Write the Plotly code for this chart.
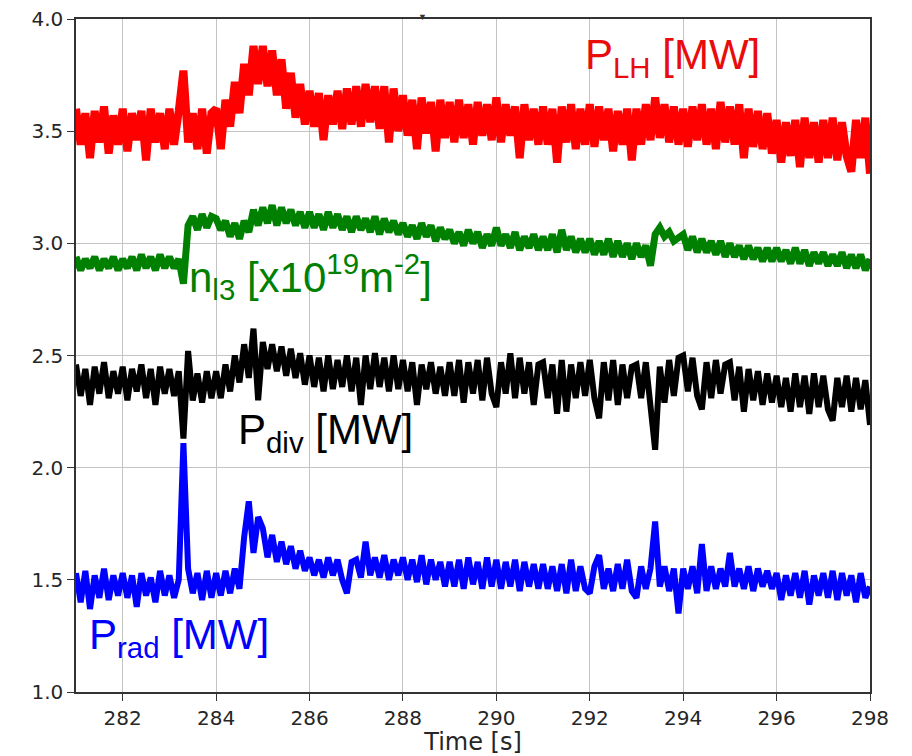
import numpy as np
import plotly.graph_objects as go

# time samples (s), 0.1 s spacing
time_s = [round(281.0 + 0.1 * i, 1) for i in range(171)]

p_lh = [
    3.60, 3.44, 3.58, 3.38, 3.59, 3.45, 3.61, 3.40, 3.57, 3.44,
    3.60, 3.41, 3.58, 3.46, 3.59, 3.37, 3.60, 3.45, 3.58, 3.42,
    3.60, 3.44, 3.59, 3.77, 3.45, 3.58, 3.42, 3.60, 3.40, 3.58,
    3.60, 3.42, 3.64, 3.52, 3.72, 3.58, 3.80, 3.66, 3.88, 3.71,
    3.88, 3.70, 3.86, 3.66, 3.82, 3.60, 3.76, 3.56, 3.71, 3.53,
    3.68, 3.52, 3.67, 3.46, 3.66, 3.53, 3.68, 3.51, 3.69, 3.53,
    3.70, 3.52, 3.71, 3.54, 3.70, 3.51, 3.70, 3.45, 3.69, 3.50,
    3.66, 3.48, 3.64, 3.42, 3.65, 3.49, 3.63, 3.41, 3.64, 3.47,
    3.63, 3.45, 3.64, 3.47, 3.62, 3.44, 3.63, 3.48, 3.62, 3.46,
    3.65, 3.45, 3.62, 3.48, 3.61, 3.38, 3.62, 3.46, 3.60, 3.44,
    3.61, 3.44, 3.60, 3.36, 3.61, 3.45, 3.62, 3.42, 3.60, 3.44,
    3.62, 3.43, 3.61, 3.46, 3.60, 3.41, 3.59, 3.44, 3.60, 3.37,
    3.60, 3.44, 3.62, 3.46, 3.65, 3.47, 3.62, 3.45, 3.61, 3.44,
    3.60, 3.43, 3.61, 3.46, 3.62, 3.44, 3.60, 3.42, 3.63, 3.45,
    3.61, 3.44, 3.62, 3.38, 3.60, 3.43, 3.59, 3.42, 3.58, 3.40,
    3.55, 3.36, 3.54, 3.39, 3.55, 3.34, 3.56, 3.38, 3.54, 3.36,
    3.55, 3.38, 3.56, 3.37, 3.54, 3.39, 3.32, 3.55, 3.38, 3.56,
    3.31,
]

n_l3 = [
    2.94, 2.88, 2.93, 2.89, 2.94, 2.88, 2.93, 2.89, 2.94, 2.88,
    2.93, 2.89, 2.94, 2.88, 2.95, 2.89, 2.94, 2.88, 2.95, 2.89,
    2.94, 2.89, 2.93, 2.82, 3.08, 3.12, 3.06, 3.13, 3.07, 3.12,
    3.11, 3.06, 3.10, 3.03, 3.09, 3.02, 3.10, 3.05, 3.15, 3.08,
    3.16, 3.09, 3.17, 3.08, 3.16, 3.09, 3.15, 3.08, 3.14, 3.07,
    3.14, 3.07, 3.13, 3.06, 3.14, 3.07, 3.13, 3.06, 3.12, 3.05,
    3.12, 3.06, 3.11, 3.05, 3.12, 3.04, 3.11, 3.05, 3.10, 3.04,
    3.09, 3.03, 3.08, 3.02, 3.09, 3.03, 3.08, 3.01, 3.07, 3.02,
    3.06, 3.00, 3.05, 2.99, 3.06, 3.00, 3.05, 2.98, 3.04, 2.99,
    3.07, 2.99, 3.04, 2.98, 3.05, 2.97, 3.03, 2.98, 3.04, 2.97,
    3.03, 2.97, 3.04, 2.96, 3.06, 2.97, 3.03, 2.96, 3.02, 2.96,
    3.02, 2.95, 3.01, 2.95, 3.02, 2.94, 3.01, 2.94, 3.00, 2.93,
    3.00, 2.94, 2.99, 2.90, 3.04, 3.07, 3.03, 3.05, 3.01, 3.03,
    3.04, 2.97, 3.03, 2.96, 3.02, 2.96, 3.01, 2.95, 3.01, 2.94,
    3.00, 2.94, 2.99, 2.93, 2.99, 2.93, 2.98, 2.92, 2.98, 2.92,
    2.98, 2.92, 2.97, 2.91, 2.98, 2.91, 2.97, 2.90, 2.96, 2.91,
    2.96, 2.90, 2.95, 2.90, 2.96, 2.89, 2.95, 2.89, 2.95, 2.88,
    2.93,
]

p_div = [
    2.46, 2.32, 2.44, 2.28, 2.45, 2.33, 2.47, 2.31, 2.43, 2.33,
    2.45, 2.30, 2.44, 2.34, 2.46, 2.31, 2.44, 2.28, 2.45, 2.33,
    2.44, 2.32, 2.43, 2.13, 2.52, 2.30, 2.42, 2.29, 2.43, 2.31,
    2.43, 2.31, 2.46, 2.34, 2.50, 2.38, 2.55, 2.40, 2.62, 2.30,
    2.56, 2.44, 2.55, 2.43, 2.54, 2.41, 2.53, 2.40, 2.51, 2.37,
    2.50, 2.36, 2.49, 2.34, 2.50, 2.35, 2.48, 2.36, 2.50, 2.34,
    2.49, 2.28, 2.50, 2.35, 2.51, 2.36, 2.49, 2.34, 2.50, 2.35,
    2.48, 2.34, 2.47, 2.28, 2.46, 2.35, 2.47, 2.33, 2.45, 2.32,
    2.47, 2.32, 2.48, 2.29, 2.47, 2.33, 2.48, 2.30, 2.49, 2.33,
    2.27, 2.47, 2.33, 2.51, 2.31, 2.49, 2.33, 2.47, 2.28, 2.46,
    2.47, 2.31, 2.46, 2.24, 2.48, 2.25, 2.46, 2.31, 2.47, 2.32,
    2.48, 2.31, 2.22, 2.47, 2.30, 2.48, 2.28, 2.46, 2.31, 2.45,
    2.46, 2.31, 2.47, 2.30, 2.08, 2.45, 2.29, 2.48, 2.32, 2.49,
    2.50, 2.34, 2.49, 2.32, 2.26, 2.47, 2.31, 2.48, 2.33, 2.46,
    2.47, 2.30, 2.45, 2.25, 2.44, 2.30, 2.43, 2.28, 2.42, 2.29,
    2.41, 2.27, 2.40, 2.25, 2.42, 2.27, 2.41, 2.24, 2.42, 2.27,
    2.41, 2.26, 2.21, 2.40, 2.27, 2.41, 2.25, 2.40, 2.26, 2.39,
    2.19,
]

p_rad = [
    1.53, 1.40, 1.54, 1.37, 1.52, 1.42, 1.55, 1.41, 1.52, 1.43,
    1.53, 1.42, 1.52, 1.38, 1.53, 1.43, 1.51, 1.40, 1.54, 1.43,
    1.52, 1.42, 1.50, 2.11, 1.55, 1.44, 1.53, 1.41, 1.54, 1.42,
    1.53, 1.43, 1.54, 1.44, 1.55, 1.46, 1.69, 1.85, 1.62, 1.78,
    1.73, 1.60, 1.70, 1.58, 1.67, 1.57, 1.65, 1.55, 1.63, 1.54,
    1.60, 1.52, 1.59, 1.51, 1.60, 1.52, 1.59, 1.50, 1.44, 1.58,
    1.59, 1.51, 1.67, 1.52, 1.60, 1.51, 1.61, 1.50, 1.59, 1.52,
    1.60, 1.50, 1.59, 1.49, 1.61, 1.48, 1.59, 1.50, 1.58, 1.47,
    1.58, 1.47, 1.59, 1.46, 1.60, 1.48, 1.58, 1.46, 1.60, 1.47,
    1.59, 1.46, 1.58, 1.47, 1.59, 1.45, 1.58, 1.47, 1.57, 1.46,
    1.57, 1.46, 1.56, 1.45, 1.57, 1.44, 1.59, 1.45, 1.56, 1.46,
    1.44, 1.56, 1.61, 1.46, 1.55, 1.45, 1.57, 1.46, 1.59, 1.45,
    1.42, 1.56, 1.46, 1.55, 1.76, 1.47, 1.56, 1.45, 1.55, 1.35,
    1.55, 1.46, 1.56, 1.44, 1.66, 1.45, 1.56, 1.46, 1.55, 1.47,
    1.62, 1.47, 1.55, 1.46, 1.56, 1.45, 1.55, 1.47, 1.54, 1.46,
    1.53, 1.41, 1.52, 1.43, 1.53, 1.42, 1.54, 1.39, 1.52, 1.43,
    1.53, 1.42, 1.54, 1.41, 1.53, 1.43, 1.52, 1.40, 1.53, 1.42,
    1.47,
]

x_ticks = [282, 284, 286, 288, 290, 292, 294, 296, 298]
y_ticks = [1.0, 1.5, 2.0, 2.5, 3.0, 3.5, 4.0]

series = [
    ("P_LH", p_lh, "#ff0000", 8),
    ("n_l3", n_l3, "#008000", 7),
    ("P_div", p_div, "#000000", 6),
    ("P_rad", p_rad, "#0000ff", 6),
]

fig = go.Figure()
for name, vals, col, w in series:
    fig.add_trace(go.Scatter(x=time_s, y=vals, mode="lines", name=name,
                             line=dict(color=col, width=w), showlegend=False))

lab_font = "Liberation Sans, Arial, sans-serif"
labels = [
    ("P<sub>LH</sub> [MW]", 291.85, 3.83, "#e80c0c"),
    ("n<sub>l3</sub> [x10<sup>19</sup>m<sup>-2</sup>]", 283.37, 2.85, "#008000"),
    ("P<sub>div</sub> [MW]", 284.43, 2.155, "#000000"),
    ("P<sub>rad</sub> [MW]", 281.23, 1.245, "#0000ff"),
]
for txt, xv, yv, col in labels:
    fig.add_annotation(x=xv, y=yv, text=txt, showarrow=False, xanchor="left",
                       yanchor="middle", font=dict(family=lab_font, size=42, color=col))

fig.add_annotation(xref="paper", yref="paper", x=0.437, y=1.016, yanchor="top",
                   text="▼", showarrow=False, font=dict(size=9, color="#333333"))

tick_font = dict(family="DejaVu Sans, sans-serif", size=20, color="#262626")
fig.update_xaxes(range=[281, 298], tickvals=x_ticks, ticks="outside", ticklen=7,
                 tickcolor="#333333", showline=True, linecolor="#333333", linewidth=1.5,
                 mirror=True, showgrid=True, gridcolor="#c4c4c4", gridwidth=1,
                 zeroline=False, tickfont=tick_font, automargin=False,
                 ticklabeloverflow="allow",
                 title=dict(text="Time [s]", font=dict(family="DejaVu Sans, sans-serif",
                                                      size=24, color="#262626"), standoff=4))
fig.update_yaxes(range=[1.0, 4.0], tickvals=y_ticks, tickformat=".1f", ticks="outside",
                 ticklen=7, tickcolor="#333333", showline=True, linecolor="#333333",
                 linewidth=1.5, mirror=True, showgrid=True, gridcolor="#c4c4c4",
                 gridwidth=1, zeroline=False, tickfont=tick_font, automargin=False,
                 ticklabeloverflow="allow")
# the page body adds an 8px offset, so the figure is 8px smaller and shifted margins
fig.update_layout(width=904, height=748, plot_bgcolor="white", paper_bgcolor="white",
                  margin=dict(l=68, r=42, t=11, b=64))
fig.write_html("out.html")
